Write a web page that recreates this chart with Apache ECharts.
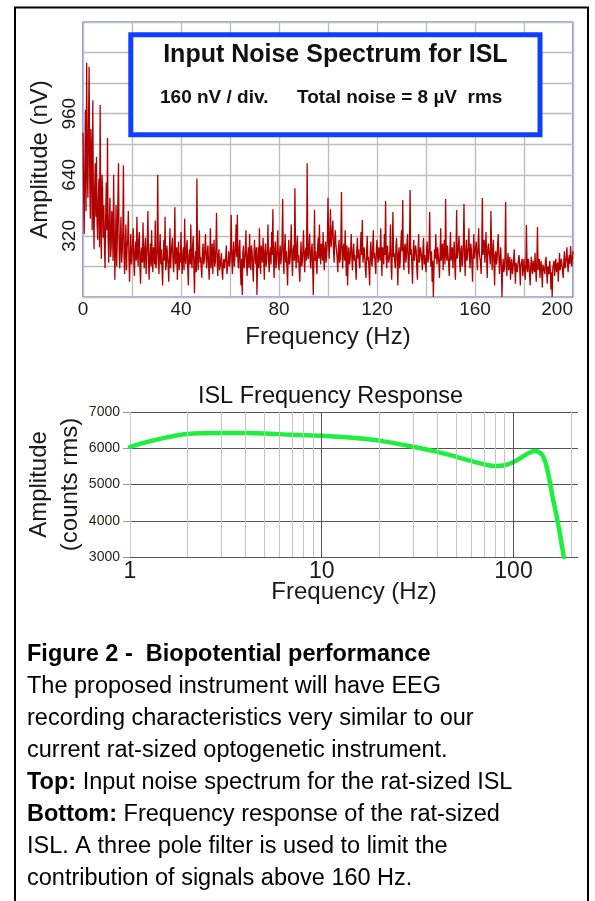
<!DOCTYPE html>
<html>
<head>
<meta charset="utf-8">
<script src="https://cdn.jsdelivr.net/npm/echarts@6/dist/echarts.min.js"></script>
<style>
html,body{margin:0;padding:0;background:#fff;}
#c{width:595px;height:901px;}
</style>
</head>
<body>
<div id="c"></div>
<script>
// ---------- Top chart: input noise spectrum ----------
const noiseBinHz = 0.25; // spectrum bin width (Hz), first bin at 0 Hz
const noiseNv = [
  860,540, 330,700, 980,450, 1226,680, 520,900, 1205,620, 410,880, 760,350, 1030,480, 250,560, 700,420, 734,380, 300,510, 620,260, 1006,390, 200,640, 560,310, 480,270, 150,420, 600,350,
  833,300, 180,400, 520,210, 260,450, 410,190, 640,330, 90,280, 480,160, 300,520, 700,240, 150,310, 420,180, 230,350, 690,210, 120,270, 380,140, 260,300, 450,200, 80,230, 330,170,
  210,280, 360,170, 110,250, 290,190, 420,230, 160,300, 340,150, 70,240, 260,180, 390,210, 150,260, 310,120, 200,290, 450,180, 90,220, 280,160, 350,200, 130,260, 240,170, 400,150,
  180,260, 640,200, 120,240, 330,170, 250,150, 60,220, 300,190, 420,140, 170,270, 280,160, 80,230, 360,150, 220,270, 310,180, 130,250, 470,170, 200,260, 90,210, 290,140, 230,180,
  340,180, 120,230, 260,140, 410,200, 170,260, 300,150, 60,220, 250,170, 380,190, 150,270, 320,160, 20,200, 240,130, 620,210, 140,250, 350,180, 210,150, 100,240, 280,170, 190,260,
  330,200, 150,240, 270,170, 90,210, 360,150, 210,280, 120,230, 300,160, 180,260, 440,190, 110,220, 250,140, 160,200, 230,130, 90,180, 200,150, 140,210, 270,120, 110,190, 240,160,
  180,250, 430,190, 120,230, 290,160, 200,270, 380,210, 430,180, 150,260, 300,140, 60,200, 10,230, 270,150, 190,240, 350,170, 110,220, 260,150, 330,190, 140,270, 240,160, 80,210,
  300,200, 170,260, 10,170, 260,150, 360,210, 120,270, 230,180, 310,200, 90,240, 280,160, 200,250, 380,190, 130,230, 260,170, 340,220, 460,200, 100,250, 290,150, 180,270, 350,190,
  140,230, 270,170, 210,280, 513,200, 120,250, 330,180, 240,150, 60,220, 300,170, 190,260, 380,200, 110,240, 270,190, 570,230, 150,270, 320,180, 220,140, 80,210, 290,160, 180,250,
  350,200, 130,240, 260,190, 700,220, 200,270, 330,180, 150,250, 280,160, 10,220, 456,190, 240,170, 120,260, 310,200, 380,230, 170,280, 260,190, 340,210, 140,260, 290,180, 230,300,
  520,280, 200,330, 460,260, 300,360, 400,240, 180,310, 350,270, 240,200, 130,250, 300,180, 200,290, 550,220, 150,260, 280,190, 350,230, 110,270, 60,210, 260,170, 190,250, 330,200,
  140,240, 280,190, 220,160, 90,250, 310,200, 250,170, 150,270, 340,220, 403,180, 180,260, 270,150, 100,230, 320,190, 210,140, 60,240, 290,180, 160,260, 350,200, 230,170, 120,250,
  300,210, 180,260, 260,190, 360,230, 110,260, 240,170, 330,220, 503,200, 150,270, 280,180, 200,240, 380,160, 90,250, 445,210, 230,180, 150,270, 310,190, 60,230, 260,150, 190,280,
  350,240, 508,200, 140,260, 280,180, 210,290, 330,170, 120,250, 560,220, 250,160, 70,230, 300,190, 180,270, 240,150, 90,240, 330,180, 200,260, 270,200, 140,250, 310,170, 220,230,
  130,250, 290,180, 200,260, 445,210, 160,240, 80,190, 0,150, 250,200, 330,220, 170,260, 270,180, 100,230, 360,190, 230,280, 140,250, 300,170, 513,230, 190,270, 260,170, 110,240,
  340,190, 200,260, 150,230, 290,170, 90,240, 456,200, 230,270, 320,180, 130,250, 270,160, 190,280, 487,210, 110,240, 300,190, 220,260, 360,200, 150,280, 250,170, 80,230, 330,200,
  200,260, 290,200, 140,270, 360,230, 240,180, 120,250, 518,220, 260,300, 180,250, 340,190, 100,260, 280,230, 210,170, 450,260, 140,240, 300,180, 60,220, 240,170, 190,280, 330,210,
  120,200, 260,170, 0,150, 200,130, 150,220, 498,160, 110,190, 230,140, 170,210, 90,170, 200,120, 140,190, 250,150, 70,180, 180,130, 120,200, 220,150, 60,170, 160,200, 110,140,
  200,140, 90,170, 377,150, 130,200, 180,120, 60,160, 210,140, 120,190, 160,130, 230,150, 80,180, 367,140, 150,200, 100,160, 190,120, 50,170, 170,140, 120,190, 210,130, 70,160,
  150,120, 190,140, 40,130, 0,150, 160,190, 110,170, 200,130, 140,180, 80,160, 230,140, 150,200, 190,130, 100,190, 240,150, 170,210, 260,180, 130,200, 220,170, 267,210, 160,200, 240
];
const noiseXTickLabels = [0, 40, 80, 120, 160, 200];
const noiseYTickLabels = [320, 640, 960];

// ---------- Bottom chart: ISL frequency response ----------
const respFreqHz = [1, 2, 3, 4, 5, 7, 10, 15, 20, 30, 40, 50, 60, 70, 80, 90, 100, 110, 120, 130, 137, 143, 150, 160, 170, 183];
const respCounts = [6040, 6390, 6420, 6420, 6410, 6370, 6345, 6280, 6210, 6040, 5900, 5770, 5650, 5560, 5510, 5530, 5620, 5745, 5870, 5925, 5880, 5770, 5420, 4650, 3980, 3000];
const respXTickLabels = [1, 10, 100];
const respMajorGridHz = [10, 100];
const respMinorGridHz = [2, 3, 4, 5, 6, 7, 8, 9, 20, 30, 40, 50, 60, 70, 80, 90, 200];

// ---------- Caption ----------
const captionLines = [
  ['Figure 2 -  Biopotential performance', ''],
  ['', 'The proposed instrument will have EEG'],
  ['', 'recording characteristics very similar to our'],
  ['', 'current rat-sized optogenetic instrument.'],
  ['Top:', ' Input noise spectrum for the rat-sized ISL'],
  ['Bottom:', ' Frequency response of the rat-sized'],
  ['', 'ISL. A three pole filter is used to limit the'],
  ['', 'contribution of signals above 160 Hz.']
];

const FONT = '"Liberation Sans", Arial, Helvetica, sans-serif';
const chart = echarts.init(document.getElementById('c'), null, {renderer: 'canvas'});

const graphics = [
  {type: 'rect', z: 100, shape: {x: 15, y: 7.5, width: 573, height: 1000},
   style: {fill: 'none', stroke: '#000', lineWidth: 2}},
  {type: 'rect', z: 100, shape: {x: 130.8, y: 34.8, width: 409.2, height: 100},
   style: {fill: '#fff', stroke: '#1040ff', lineWidth: 5}},
  {type: 'text', z: 101, x: 335.4, y: 55.5,
   style: {text: 'Input Noise Spectrum for ISL', fontFamily: FONT, fontSize: 25, fontWeight: 'bold',
           fill: '#111', align: 'center', verticalAlign: 'middle'}},
  {type: 'text', z: 101, x: 160, y: 97.5,
   style: {text: '160 nV / div.', fontFamily: FONT, fontSize: 19, fontWeight: 'bold',
           fill: '#111', align: 'left', verticalAlign: 'middle'}},
  {type: 'text', z: 101, x: 297, y: 97.5,
   style: {text: 'Total noise = 8 µV  rms', fontFamily: FONT, fontSize: 19, fontWeight: 'bold',
           fill: '#111', align: 'left', verticalAlign: 'middle'}},
  {type: 'text', z: 101, x: 330.5, y: 397,
   style: {text: 'ISL Frequency Response', fontFamily: FONT, fontSize: 23.5,
           fill: '#111', align: 'center', verticalAlign: 'middle'}}
];

captionLines.forEach(function (ln, i) {
  const txt = (ln[0] ? '{b|' + ln[0] + '}' : '') + (ln[1] ? '{r|' + ln[1] + '}' : '');
  graphics.push({
    type: 'text', z: 101, x: 27, y: 654.5 + i * 32,
    style: {
      text: txt, align: 'left', verticalAlign: 'middle', fontFamily: FONT, fontSize: 23.5, fill: '#000',
      rich: {
        b: {fontFamily: FONT, fontSize: 23.5, fontWeight: 'bold', fill: '#000', color: '#000'},
        r: {fontFamily: FONT, fontSize: 23.5, fill: '#000', color: '#000'}
      }
    }
  });
});

function isOneOf(v, arr) {
  for (let k = 0; k < arr.length; k++) {
    if (Math.abs(arr[k] - v) < 1e-6 * Math.max(1, arr[k])) return arr[k];
  }
  return null;
}

const option = {
  animation: false,
  backgroundColor: '#fff',
  textStyle: {fontFamily: FONT},
  grid: [
    {left: 83, top: 22, width: 490, height: 275, show: true, borderColor: '#4a58f0', borderWidth: 1.2,
     backgroundColor: 'transparent', containLabel: false, outerBoundsMode: 'none'},
    {left: 130, top: 412, width: 448, height: 145, show: false, containLabel: false, outerBoundsMode: 'none'}
  ],
  xAxis: [
    {gridIndex: 0, type: 'value', min: 0, max: 200, interval: 20,
     axisLine: {show: false}, axisTick: {show: false},
     splitLine: {show: true, lineStyle: {color: '#bdbdbd', width: 1.3}},
     axisLabel: {interval: 0, fontSize: 19, color: '#1a1a1a', margin: 3, fontFamily: FONT, alignMaxLabel: 'right',
                 formatter: function (v) { const t = isOneOf(v, noiseXTickLabels); return t === null ? '' : String(t); }},
     name: 'Frequency (Hz)', nameLocation: 'middle', nameGap: 28, nameMoveOverlap: false,
     nameTextStyle: {fontSize: 24, color: '#1a1a1a', fontFamily: FONT}},
    {gridIndex: 1, type: 'log', logBase: 10, min: 1, max: 217,
     axisLine: {show: true, lineStyle: {color: '#555', width: 1}}, axisTick: {show: false},
     splitLine: {show: false}, minorTick: {show: false}, minorSplitLine: {show: false},
     axisLabel: {fontSize: 23, color: '#1a1a1a', margin: 3, fontFamily: FONT, showMaxLabel: false, showMinLabel: true,
                 formatter: function (v) { const t = isOneOf(v, respXTickLabels); return t === null ? '' : String(t); }},
     name: 'Frequency (Hz)', nameLocation: 'middle', nameGap: 23.5, nameMoveOverlap: false,
     nameTextStyle: {fontSize: 24, color: '#1a1a1a', fontFamily: FONT}}
  ],
  yAxis: [
    {gridIndex: 0, type: 'value', min: 0, max: 1440, interval: 160,
     axisLine: {show: false}, axisTick: {show: false},
     splitLine: {show: true, lineStyle: {color: '#bdbdbd', width: 1.3}},
     axisLabel: {interval: 0, rotate: 90, fontSize: 19, color: '#1a1a1a', margin: 4, fontFamily: FONT,
                 formatter: function (v) { const t = isOneOf(v, noiseYTickLabels); return t === null ? '' : String(t); }},
     name: 'Amplitude (nV)', nameLocation: 'middle', nameRotate: 90, nameGap: 31, nameMoveOverlap: false,
     nameTextStyle: {fontSize: 24, color: '#1a1a1a', fontFamily: FONT}},
    {gridIndex: 1, type: 'value', min: 3000, max: 7000, interval: 1000,
     axisLine: {show: true, lineStyle: {color: '#c8c8c8', width: 1}},
     axisTick: {show: true, length: 7, lineStyle: {color: '#999'}},
     splitLine: {show: true, lineStyle: {color: '#555', width: 1}},
     axisLabel: {fontSize: 14, color: '#2a2418', margin: 10, fontFamily: FONT,
                 formatter: function (v) { return String(Math.round(v)); }},
     name: 'Amplitude\n(counts rms)', nameLocation: 'middle', nameRotate: 90, nameGap: 44, nameMoveOverlap: false,
     nameTextStyle: {fontSize: 24, lineHeight: 31, color: '#1a1a1a', fontFamily: FONT}}
  ],
  series: [
    {type: 'line', name: 'noise', xAxisIndex: 0, yAxisIndex: 0, z: 2,
     data: noiseNv.map(function (v, i) { return [i * noiseBinHz, v]; }),
     symbol: 'none', showSymbol: false, lineStyle: {color: '#b00000', width: 1.3}, silent: true},
    {type: 'line', name: 'gridlines', xAxisIndex: 1, yAxisIndex: 1, z: 1,
     data: respFreqHz.map(function (f, i) { return [f, respCounts[i]]; }),
     symbol: 'none', showSymbol: false, lineStyle: {opacity: 0, width: 0}, silent: true,
     markLine: {silent: true, symbol: ['none', 'none'], label: {show: false}, animation: false,
       emphasis: {disabled: true},
       data: respMinorGridHz.map(function (f) { return {xAxis: f, lineStyle: {color: '#c4c4c4', width: 1, type: 'solid'}}; })
         .concat(respMajorGridHz.map(function (f) { return {xAxis: f, lineStyle: {color: '#555', width: 1, type: 'solid'}}; }))}},
    {type: 'line', name: 'response', xAxisIndex: 1, yAxisIndex: 1, z: 3,
     data: respFreqHz.map(function (f, i) { return [f, respCounts[i]]; }),
     smooth: 0.35, symbol: 'none', showSymbol: false, silent: true,
     lineStyle: {color: '#1def3f', width: 4.5, cap: 'round', join: 'round'}}
  ],
  graphic: graphics
};

chart.setOption(option);
</script>
</body>
</html>
